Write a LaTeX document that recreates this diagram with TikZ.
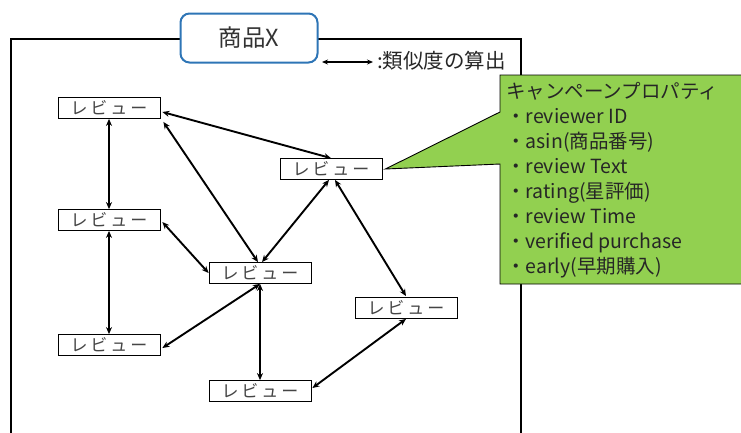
\documentclass[tikz,border=0pt]{standalone}
\usepackage{fontspec}
\setmainfont{Noto Sans CJK JP}
\usetikzlibrary{arrows.meta}
\definecolor{prodblue}{HTML}{2E75B6}
\definecolor{callgreen}{HTML}{92D050}
\definecolor{rvgray}{HTML}{454545}
\newcommand\rvw{レ\hspace{3pt}ビ\hspace{3pt}ュ\hspace{3pt}ー}
\tikzset{
  rv/.style={draw=black, line width=0.8pt, fill=white, minimum width=102pt, minimum height=21pt, inner sep=0pt, font=\fontsize{17}{18}\selectfont, text=rvgray},
  biarr/.style={{Stealth[length=7pt,width=6pt]}-{Stealth[length=7pt,width=6pt]}, line width=1.9pt},
}
\begin{document}
\begin{tikzpicture}[x=1pt,y=-1pt]
\useasboundingbox (0,0) rectangle (741,432);
% frame
\draw[line width=1.8pt] (11,440) -- (11,39) -- (521,39) -- (521,440);
% product box
\node[draw=prodblue, line width=2pt, rounded corners=9pt, fill=white, minimum width=137pt, minimum height=49pt, font=\fontsize{23.5}{25}\selectfont, text=black!80] (prod) at (249,38) {商品X};
% legend
\coordinate (l1) at (322,62);
\coordinate (l2) at (373,62);
\draw[{Stealth[length=6pt,width=5pt]}-{Stealth[length=6pt,width=5pt]}, line width=1.4pt] (l1) -- (l2);
\node[anchor=west, inner sep=0pt, font=\fontsize{20.5}{22}\selectfont, text=black!85] (leg) at (377,61) {:類似度の算出};
% reviews
\node[rv] (r1) at (109,108) {\rvw};
\node[rv] (r2) at (331,169) {\rvw};
\node[rv] (r3) at (109,220) {\rvw};
\node[rv] (r4) at (260,273) {\rvw};
\node[rv] (r5) at (406,308) {\rvw};
\node[rv] (r6) at (109,345) {\rvw};
\node[rv] (r7) at (260,391) {\rvw};
% callout
\coordinate (tip) at ([xshift=3pt]r2.east);
\fill[callgreen, draw=black, line width=0.9pt] (500,75) -- (745,75) -- (745,284) -- (500,284) -- (500,164) -- (tip) -- (500,112) -- cycle;
\node[anchor=north west, inner sep=0pt, align=left, font=\fontsize{19.5}{25}\selectfont, text=black!85] (props) at (506,82) {キャンペーンプロパティ\\
・reviewer ID\\
・asin(商品番号)\\
・review Text\\
・rating(星評価)\\
・review Time\\
・verified purchase\\
・early(早期購入)};
% arrows
\draw[biarr] ([xshift=2pt,yshift=-4pt]r1.east) -- (r2.north);
\draw[biarr] (r1.south) -- (r3.north);
\draw[biarr] ([xshift=3pt,yshift=-3pt]r1.south east) -- ([xshift=-2pt]r4.north);
\draw[biarr] ([xshift=-2pt]r2.south) -- ([xshift=2pt]r4.north);
\draw[biarr] ([xshift=4pt]r2.south) -- ([yshift=1pt]r5.north);
\draw[biarr] ([xshift=2pt,yshift=-2pt]r3.east) -- (r4.west);
\draw[biarr] (r3.south) -- (r6.north);
\draw[biarr] (r4.south) -- ([xshift=2pt,yshift=-3pt]r6.east);
\draw[biarr] (r4.south) -- (r7.north);
\draw[biarr] (r5.south) -- ([xshift=1pt,yshift=3pt]r7.east);
\end{tikzpicture}
\end{document}
